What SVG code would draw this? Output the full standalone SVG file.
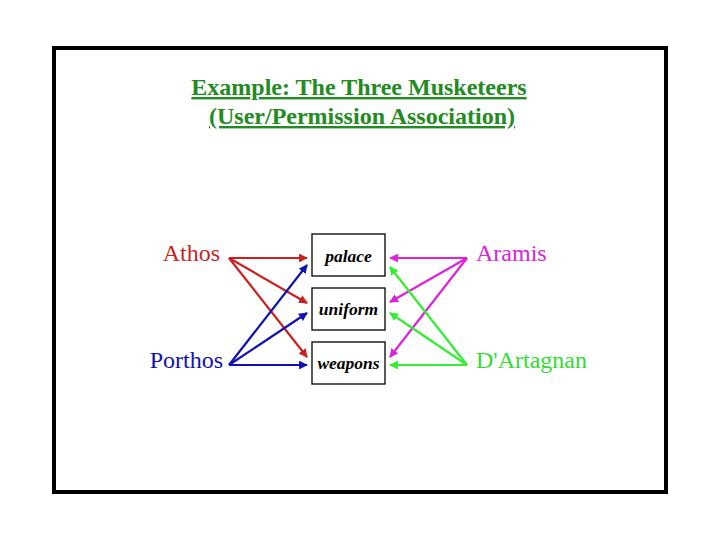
<svg xmlns="http://www.w3.org/2000/svg" width="720" height="540" viewBox="0 0 720 540">
<style>
.t{font-family:"Liberation Serif","Times New Roman",serif}
.title{font-size:24px;font-weight:bold;fill:#228b22;text-decoration:underline}
.name{font-size:24px}
.box{fill:#fff;stroke:#000;stroke-width:1.3}
.lbl{font-size:17.5px;font-weight:bold;font-style:italic;fill:#000}
.r{stroke:#cc1f1f;fill:none;stroke-width:2.2}
.b{stroke:#1111b3;fill:none;stroke-width:2.2}
.m{stroke:#dd22dd;fill:none;stroke-width:2.2}
.g{stroke:#33ee33;fill:none;stroke-width:2.2}
</style>
<defs>
<marker id="ar" viewBox="0 0 10 10" refX="9" refY="5" markerWidth="4" markerHeight="4" orient="auto" markerUnits="strokeWidth"><path d="M0,0L10,5L0,10z" fill="#cc1f1f"/></marker>
<marker id="ab" viewBox="0 0 10 10" refX="9" refY="5" markerWidth="4" markerHeight="4" orient="auto" markerUnits="strokeWidth"><path d="M0,0L10,5L0,10z" fill="#1111b3"/></marker>
<marker id="am" viewBox="0 0 10 10" refX="9" refY="5" markerWidth="4" markerHeight="4" orient="auto" markerUnits="strokeWidth"><path d="M0,0L10,5L0,10z" fill="#dd22dd"/></marker>
<marker id="ag" viewBox="0 0 10 10" refX="9" refY="5" markerWidth="4" markerHeight="4" orient="auto" markerUnits="strokeWidth"><path d="M0,0L10,5L0,10z" fill="#33ee33"/></marker>
</defs>
<rect width="720" height="540" fill="#fff"/>
<rect x="54" y="48" width="612" height="444" fill="none" stroke="#000" stroke-width="4"/>
<g id="title" class="t title" text-anchor="middle">
<text x="359" y="95">Example: The Three Musketeers</text>
<text x="362" y="124">(User/Permission Association)</text>
</g>
<g id="connectors">
<path class="r" d="M229,258L307,258" marker-end="url(#ar)"/>
<path class="r" d="M229,258L307,303" marker-end="url(#ar)"/>
<path class="r" d="M229,258L307,357" marker-end="url(#ar)"/>
<path class="b" d="M229,365L307,265" marker-end="url(#ab)"/>
<path class="b" d="M229,365L307,313" marker-end="url(#ab)"/>
<path class="b" d="M229,365L307,365" marker-end="url(#ab)"/>
<path class="m" d="M467,258L390,258" marker-end="url(#am)"/>
<path class="m" d="M467,258L390,302" marker-end="url(#am)"/>
<path class="m" d="M467,258L390,357" marker-end="url(#am)"/>
<path class="g" d="M467,365L390,267" marker-end="url(#ag)"/>
<path class="g" d="M467,365L390,313" marker-end="url(#ag)"/>
<path class="g" d="M467,365L390,365" marker-end="url(#ag)"/>
</g>
<g id="athos"><text class="t name" x="220" y="261" text-anchor="end" fill="#cc1f1f">Athos</text></g>
<g id="porthos"><text class="t name" x="223" y="368" text-anchor="end" fill="#1111b3">Porthos</text></g>
<g id="aramis"><text class="t name" x="476" y="261" fill="#dd22dd">Aramis</text></g>
<g id="dartagnan"><text class="t name" x="476" y="368" fill="#33dd33">D'Artagnan</text></g>
<g id="palace"><rect class="box" x="312" y="234" width="73" height="42"/><text class="t lbl" x="348.5" y="262" text-anchor="middle">palace</text></g>
<g id="uniform"><rect class="box" x="312" y="288" width="73" height="42"/><text class="t lbl" x="348.5" y="315" text-anchor="middle">uniform</text></g>
<g id="weapons"><rect class="box" x="312" y="342" width="73" height="42"/><text class="t lbl" x="348.5" y="369" text-anchor="middle">weapons</text></g>
</svg>
